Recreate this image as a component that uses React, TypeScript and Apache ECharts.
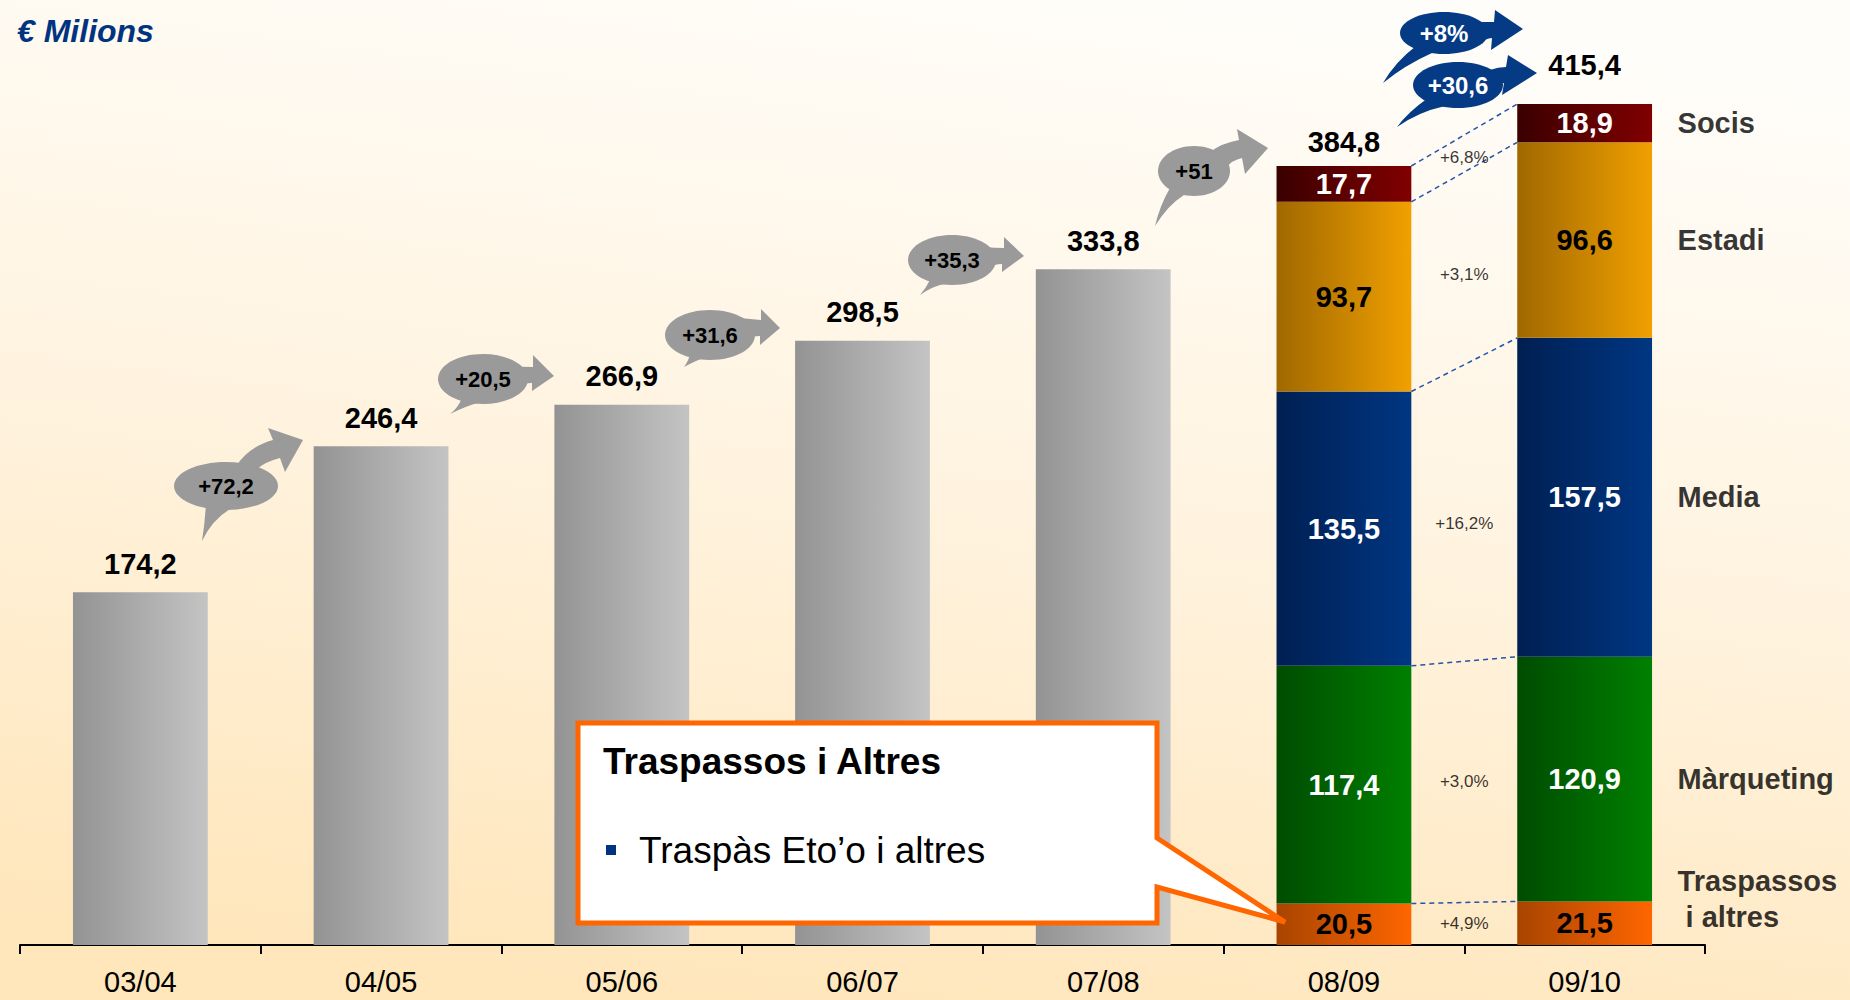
import React, { useEffect, useRef } from 'react';
import * as echarts from 'echarts';

// ---------- data ----------
const categories = ['03/04', '04/05', '05/06', '06/07', '07/08', '08/09', '09/10'];
const totalGrey: (number | string)[] = [174.2, 246.4, 266.9, 298.5, 333.8, '-', '-'];
const segNames = ['Traspassos\n i altres', 'Màrqueting', 'Media', 'Estadi', 'Socis'];
const traspassos: (number | string)[] = ['-', '-', '-', '-', '-', 20.5, 21.5];
const marqueting: (number | string)[] = ['-', '-', '-', '-', '-', 117.4, 120.9];
const media: (number | string)[] = ['-', '-', '-', '-', '-', 135.5, 157.5];
const estadi: (number | string)[] = ['-', '-', '-', '-', '-', 93.7, 96.6];
const socis: (number | string)[] = ['-', '-', '-', '-', '-', 17.7, 18.9];
const growthPct = ['+4,9%', '+3,0%', '+16,2%', '+3,1%', '+6,8%'];
const bubbleLabels = ['+72,2', '+20,5', '+31,6', '+35,3', '+51', '+8%', '+30,6'];
const unitLabel = '€ Milions';
const calloutTitle = 'Traspassos i Altres';
const calloutItem = 'Traspàs Eto’o i altres';

// ---------- styling / geometry ----------
const FONT = "'Liberation Sans', Arial, Helvetica, sans-serif";
const HW = 0.28; // half bar width in category units
const segSeries = [traspassos, marqueting, media, estadi, socis];
const segColors = [
  ['#a84400', '#ff6600'],
  ['#004c00', '#008000'],
  ['#001f52', '#003682'],
  ['#a06800', '#f0a000'],
  ['#3a0000', '#800000'],
];
const segLabelColors = ['#000', '#fff', '#fff', '#000', '#fff'];
const pctOffsets = [0, 0, 11, 6, 4];

const bubbles = [
  { cx: 226, cy: 486, rx: 52, ry: 24, fill: '#9a9a9a', tc: '#000', fs: 22,
    d: 'M 206 503 Q 205 522 202 541 Q 212 520 230 509 Z M 236 466 Q 250 446 273 440 L 268 428 L 303 440 L 285 472 L 280 458 Q 264 462 256 470 Z' },
  { cx: 483, cy: 379, rx: 45, ry: 25, fill: '#9a9a9a', tc: '#000', fs: 22,
    d: 'M 462 398 Q 458 408 450 414 Q 466 406 478 403 Z M 512 366 Q 522 367 533 367 L 533 355 L 554 376 L 532 391 L 532 383 Q 524 383 518 388 Z' },
  { cx: 710, cy: 335, rx: 45, ry: 25, fill: '#9a9a9a', tc: '#000', fs: 22,
    d: 'M 690 354 Q 689 360 684 367 Q 697 360 704 358 Z M 740 318 Q 750 319 761 320 L 761 309 L 780 328 L 760 345 L 760 336 Q 752 336 745 340 Z' },
  { cx: 952, cy: 260, rx: 44, ry: 25, fill: '#9a9a9a', tc: '#000', fs: 22,
    d: 'M 930 280 Q 926 288 920 295 Q 933 286 944 284 Z M 985 247 Q 995 248 1004 248 L 1004 237 L 1024 256 L 1002 272 L 1002 264 Q 994 264 988 268 Z' },
  { cx: 1194, cy: 171, rx: 36, ry: 25, fill: '#9a9a9a', tc: '#000', fs: 22,
    d: 'M 1170 188 Q 1160 205 1155 226 Q 1168 205 1184 195 Z M 1210 152 Q 1222 143 1239 140 L 1237 129 L 1268 148 L 1245 174 L 1242 158 Q 1232 160 1226 168 Z' },
  { cx: 1444, cy: 33, rx: 44, ry: 21, fill: '#053b84', tc: '#fff', fs: 24,
    d: 'M 1416 46 Q 1395 62 1383 83 Q 1405 65 1432 53 Z M 1478 22 Q 1486 22 1494 22 L 1495 10 L 1523 29 L 1491 50 L 1492 38 Q 1485 38 1482 44 Z' },
  { cx: 1458, cy: 85, rx: 45, ry: 23, fill: '#053b84', tc: '#fff', fs: 24,
    d: 'M 1428 98 Q 1408 112 1397 127 Q 1418 112 1445 106 Z M 1490 70 Q 1498 67 1506 67 L 1508 55 L 1537 73 L 1502 95 L 1504 83 Q 1496 84 1494 92 Z' },
];

bubbles.forEach((b, i) => {
  echarts.graphic.registerShape('bubbleArrow' + i, echarts.graphic.extendPath(b.d, {}) as any);
});

const fmt = (v: number) => v.toFixed(1).replace('.', ',');
const grad = (a: string, b: string) =>
  new echarts.graphic.LinearGradient(0, 0, 1, 0, [
    { offset: 0, color: a },
    { offset: 1, color: b },
  ]);

function buildOption() {
  const num = (v: number | string) => (typeof v === 'number' ? v : 0);
  const cum: number[][] = [];
  segSeries.forEach((s, k) => {
    cum.push(s.map((v, i) => num(v) + (k > 0 ? cum[k - 1][i] : 0)));
  });
  const mid = (k: number, i: number) => cum[k][i] - num(segSeries[k][i]) / 2;
  const totals = categories.map((_, i) => (i >= 5 ? cum[4][i] : 0));

  const boldLabel = { fontSize: 29, fontWeight: 'bold' as const, color: '#000', fontFamily: FONT };

  const series: any[] = [];
  series.push({
    type: 'bar', name: 'Total', stack: 'a', barWidth: '56%', data: totalGrey,
    itemStyle: { color: grad('#939393', '#c4c4c4') },
    label: { show: true, position: 'top', distance: 14, ...boldLabel, formatter: (p: any) => fmt(p.value) },
  });
  segSeries.forEach((s, k) => {
    series.push({
      type: 'bar', name: segNames[k], stack: 'a', barWidth: '56%', data: s,
      itemStyle: { color: grad(segColors[k][0], segColors[k][1]) },
      label: { show: true, position: 'inside', ...boldLabel, color: segLabelColors[k], formatter: (p: any) => fmt(p.value) },
    });
  });
  // totals above stacked bars: zero-height bar on top of the stack carrying the label
  series.push({
    type: 'bar', name: 'Totals', stack: 'a', barWidth: '56%', silent: true,
    itemStyle: { color: 'rgba(0,0,0,0)' },
    data: categories.map((_, i) => (i >= 5 ? { value: 0, label: { distance: i === 5 ? 9 : 25 } } : '-')),
    label: { show: true, position: 'top', ...boldLabel, formatter: (p: any) => fmt(totals[p.dataIndex]) },
  });
  // dashed connectors
  segSeries.forEach((_, k) => {
    series.push({
      type: 'line', xAxisIndex: 1, symbol: 'none', silent: true, z: 4,
      lineStyle: { color: '#2454a8', width: 1.5, type: [5, 4] },
      data: [[5 + HW, cum[k][5]], [6 - HW, cum[k][6]]],
    });
  });
  // growth percentages
  series.push({
    type: 'scatter', xAxisIndex: 1, symbolSize: 1, itemStyle: { color: 'rgba(0,0,0,0)' }, silent: true, z: 5,
    data: segSeries.map((_, k) => ({ value: [5.5, (mid(k, 5) + mid(k, 6)) / 2], label: { offset: [0, pctOffsets[k]] } })),
    label: { show: true, position: 'inside', fontSize: 17, color: '#000', fontFamily: FONT,
      formatter: (p: any) => growthPct[p.dataIndex] },
  });
  // right-side names
  series.push({
    type: 'scatter', xAxisIndex: 1, symbolSize: 1, itemStyle: { color: 'rgba(0,0,0,0)' }, silent: true, z: 5,
    data: segSeries.map((_, k) => ({ value: [6 + HW, mid(k, 6)], label: k === 0 ? { offset: [0, -24] } : {} })),
    label: { show: true, position: 'right', distance: 25, ...boldLabel, lineHeight: 36, align: 'left',
      formatter: (p: any) => segNames[p.dataIndex] },
  });

  const graphics: any[] = [];
  bubbles.forEach((b, i) => {
    graphics.push({ type: 'ellipse', z: 50, shape: { cx: b.cx, cy: b.cy, rx: b.rx, ry: b.ry }, style: { fill: b.fill } });
    graphics.push({ type: 'bubbleArrow' + i, z: 50, x: 0, y: 0, style: { fill: b.fill } });
    graphics.push({ type: 'text', z: 51, x: b.cx, y: b.cy,
      style: { text: bubbleLabels[i], fill: b.tc, font: `bold ${b.fs}px ${FONT}`, align: 'center', verticalAlign: 'middle' } });
  });
  // callout box
  graphics.push({
    type: 'polygon', z: 60,
    shape: { points: [[578, 723], [1157, 723], [1157, 838], [1285, 922], [1157, 887], [1157, 923], [578, 923]] },
    style: { fill: '#ffffff', stroke: '#ff6600', lineWidth: 5, lineJoin: 'miter' },
  });
  graphics.push({ type: 'text', z: 61, x: 603, y: 761,
    style: { text: calloutTitle, fill: '#000', font: `bold 37px ${FONT}`, verticalAlign: 'middle' } });
  graphics.push({ type: 'rect', z: 61, shape: { x: 606, y: 845, width: 10, height: 10 }, style: { fill: '#003380' } });
  graphics.push({ type: 'text', z: 61, x: 639, y: 850,
    style: { text: calloutItem, fill: '#000', font: `37px ${FONT}`, verticalAlign: 'middle' } });

  return {
    animation: false,
    backgroundColor: {
      type: 'linear', x: 0.62, y: 0, x2: 0.38, y2: 1,
      colorStops: [
        { offset: 0, color: '#fffdf9' },
        { offset: 0.5, color: '#fff3df' },
        { offset: 1, color: '#ffe6bb' },
      ],
    },
    title: {
      text: unitLabel, left: 12, top: 10,
      textStyle: { fontSize: 32, fontWeight: 'bold', fontStyle: 'italic', color: '#003380', fontFamily: FONT },
    },
    tooltip: { show: false },
    grid: { left: 20, right: 145, top: 34, bottom: 55, containLabel: false, outerBoundsMode: 'none' },
    xAxis: [
      {
        type: 'category', data: categories, boundaryGap: true,
        axisLine: { show: true, lineStyle: { color: '#000', width: 2 } },
        axisTick: { show: true, interval: 0, alignWithLabel: false, inside: false, length: 9, lineStyle: { color: '#000', width: 2 } },
        axisLabel: { fontSize: 29, color: '#000', margin: 22, fontFamily: FONT },
        splitLine: { show: false },
      },
      { type: 'value', min: -0.5, max: 6.5, show: false, splitLine: { show: false } },
    ],
    yAxis: { type: 'value', min: 0, max: 450, show: false, splitLine: { show: false } },
    series,
    graphic: graphics,
  };
}

export default function App() {
  const ref = useRef<HTMLDivElement>(null);
  useEffect(() => {
    if (!ref.current) return;
    const chart = echarts.init(ref.current, undefined, { renderer: 'svg' });
    chart.setOption(buildOption() as any);
    return () => chart.dispose();
  }, []);
  return <div ref={ref} style={{ position: 'absolute', left: 0, top: 0, width: 1850, height: 1000 }} />;
}
